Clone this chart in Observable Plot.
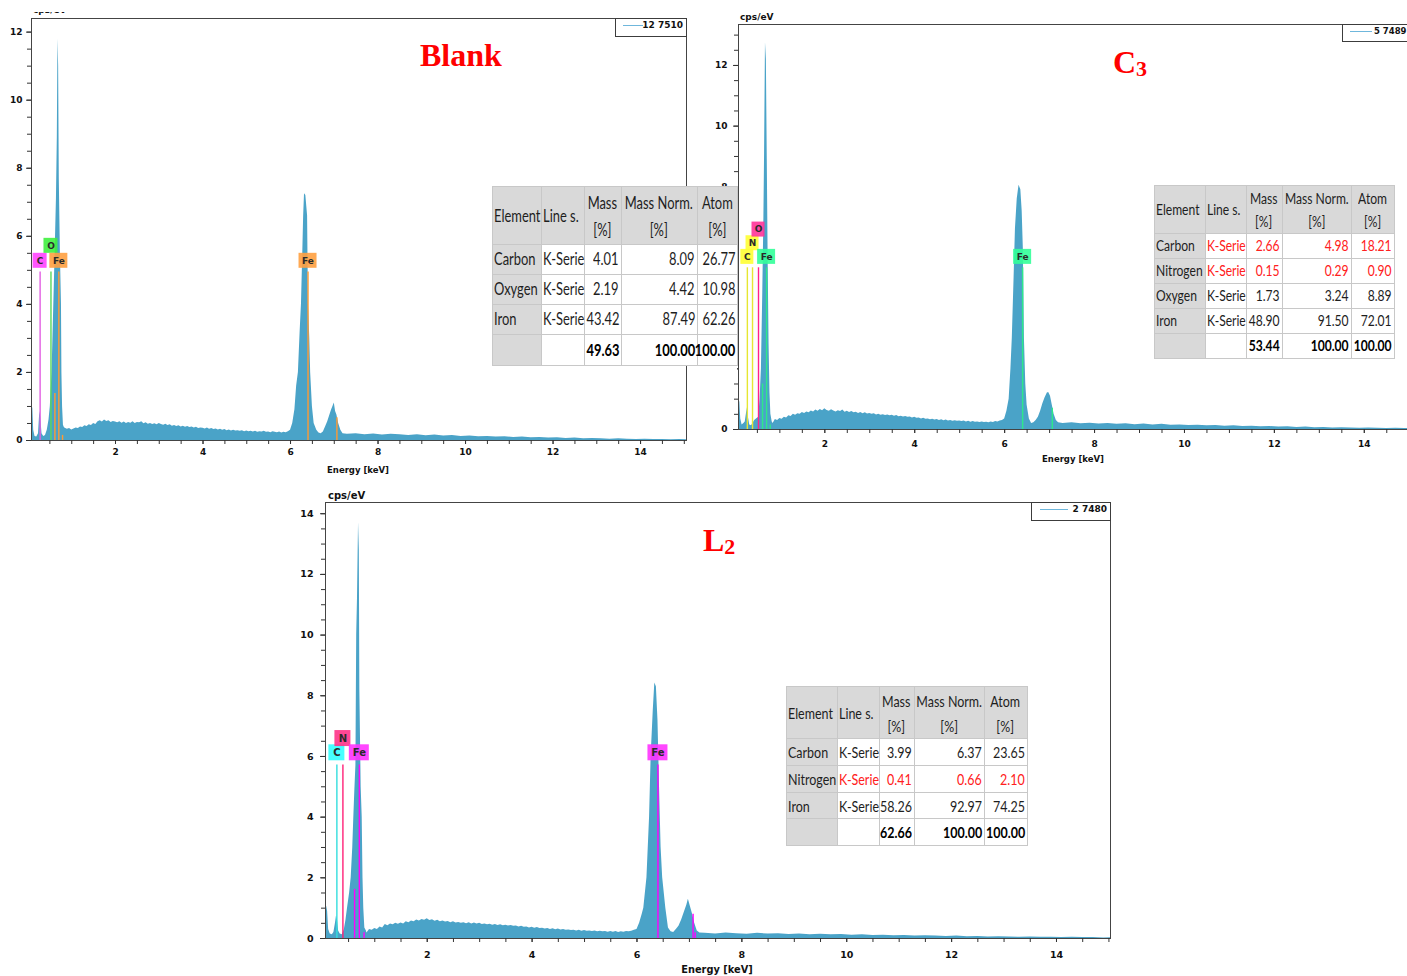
<!DOCTYPE html>
<html><head><meta charset="utf-8">
<script src="https://cdn.jsdelivr.net/npm/d3@7"></script>
<script src="https://cdn.jsdelivr.net/npm/@observablehq/plot@0.6"></script>
<style>
body{margin:0;background:#fff;overflow:hidden;}
#root{position:relative;width:1407px;height:976px;overflow:hidden;background:#fff;}
.pnl{position:absolute;}
.axlab{position:absolute;font-family:"DejaVu Sans",sans-serif;font-weight:bold;color:#111;white-space:nowrap;line-height:1;}
.title{position:absolute;font-family:"Liberation Serif","Times New Roman",serif;font-weight:bold;color:#ff0000;font-size:32px;line-height:32px;white-space:nowrap;}
.title span.s{font-size:22px;position:relative;top:3px;}
.legend{position:absolute;border:1px solid #3c3c3c;background:#fff;box-sizing:border-box;}
.legend .ln{position:absolute;height:0;border-top:1px solid #6fb7dc;}
.legend .tx{position:absolute;font:bold 9px "DejaVu Sans",sans-serif;color:#111;line-height:10px;white-space:nowrap;}
table.eds{position:absolute;border-collapse:collapse;table-layout:fixed;background:#fff;color:#1e1e1e;font-family:Lato,"Open Sans",sans-serif;}
table.eds td{border:1.5px solid #c8c8c8;padding:0 2px 0 1px;white-space:nowrap;overflow:visible;line-height:1.1;}
table.eds td.g{background:#d9d9d9;}
table.eds td.b{font-weight:bold;color:#000;}
.w{display:flex;width:100%;}
.w span{flex:none;white-space:nowrap;display:block;}
.w.l{justify-content:flex-start;} .w.l span{transform-origin:left center;text-align:left;}
.w.r{justify-content:flex-end;} .w.r span{transform-origin:right center;text-align:right;}
.w.c{justify-content:center;} .w.c span{transform-origin:center center;text-align:center;}
</style>
</head><body><div id="root"></div>
<script>
// ---------------- DATA ----------------
const xMajorTicks = [2, 4, 6, 8, 10, 12, 14];
const yMajorBlank = [0, 2, 4, 6, 8, 10, 12];
const yMajorC3 = [0, 2, 4, 6, 8, 10, 12];
const yMajorL2 = [0, 2, 4, 6, 8, 10, 12, 14];

// Blank spectrum (energy keV, cps/eV)
const blankLow = [[0.07,0.3],[0.09,1.0],[0.11,0.95],[0.13,0.3],[0.16,0.12],[0.2,0.1],[0.24,0.2],[0.27,0.85],[0.29,0.7],[0.32,0.2],[0.36,0.12],[0.4,0.15],[0.44,0.3],[0.48,0.6],[0.51,1.0],[0.55,2.0],[0.59,4.0],[0.62,5.5],[0.65,7.1],[0.67,8.9],[0.685,11.8],[0.7,11.0],[0.715,7.7],[0.74,5.5],[0.765,4.0],[0.775,2.0],[0.79,1.0],[0.81,0.45],[0.83,0.38]];
// background 0.85 .. 5.95 keV, every 0.05 keV
const blankBg = [.36,.33,.35,.31,.34,.37,.35,.40,.38,.43,
 .41,.46,.44,.50,.47,.55,.58,.54,.60,.56,
 .58,.53,.56,.54,.52,.55,.51,.54,.50,.53,
 .51,.55,.50,.53,.52,.55,.49,.52,.48,.50,
 .47,.49,.46,.50,.47,.45,.48,.44,.46,.42,
 .44,.41,.43,.40,.42,.39,.41,.38,.40,.37,
 .39,.35,.37,.36,.34,.37,.33,.35,.32,.34,
 .31,.33,.30,.32,.29,.31,.28,.30,.28,.29,
 .27,.29,.26,.28,.26,.27,.25,.27,.24,.26,
 .25,.27,.24,.25,.23,.26,.24,.23,.25,.22,
 .24,.23,.26];
const blankFeK = [[6.0,0.3],[6.05,0.5],[6.1,0.9],[6.14,1.6],[6.18,2.0],[6.22,3.2],[6.25,4.0],[6.28,5.5],[6.3,6.6],[6.32,7.25],[6.35,7.2],[6.37,6.9],[6.39,6.6],[6.41,4.0],[6.44,3.0],[6.46,2.0],[6.5,1.0],[6.54,0.5],[6.6,0.3],[6.65,0.22],[6.7,0.2],[6.75,0.25],[6.8,0.4],[6.85,0.55],[6.9,0.75],[6.94,0.9],[6.97,1.0],[7.0,1.1],[7.03,0.85],[7.06,0.75],[7.1,0.5],[7.15,0.3],[7.2,0.2]];
// tail 7.3 .. 15.1 keV, every 0.2 keV
const blankTail = [.18,.2,.17,.19,.16,.18,.17,.15,.17,.14,.16,.13,.15,.12,.13,.11,.12,.1,.11,.09,.1,.08,.09,.07,.08,.06,.07,.05,.06,.05,.04,.05,.04,.03,.04,.03,.03,.02,.03,.02];

// C3 spectrum
const c3Low = [[0.07,0.3],[0.09,1.0],[0.11,0.9],[0.13,0.35],[0.16,0.15],[0.2,0.2],[0.23,0.25],[0.26,0.55],[0.28,0.72],[0.3,0.4],[0.33,0.15],[0.37,0.12],[0.4,0.2],[0.44,0.3],[0.48,0.35],[0.53,0.4],[0.56,1.0],[0.59,2.0],[0.62,4.5],[0.645,7.0],[0.66,9.1],[0.68,12.75],[0.7,12.2],[0.72,8.9],[0.74,5.5],[0.76,2.8],[0.78,1.2],[0.8,0.5],[0.83,0.25]];
const c3Bg = [.20,.33,.30,.36,.34,.40,.38,.45,.43,.50,
 .47,.52,.50,.56,.53,.58,.55,.61,.58,.64,
 .60,.66,.62,.68,.63,.60,.65,.61,.58,.62,
 .59,.64,.57,.60,.56,.59,.55,.57,.53,.56,
 .52,.55,.51,.53,.50,.52,.48,.50,.47,.49,
 .46,.48,.45,.47,.44,.46,.42,.44,.41,.43,
 .40,.41,.38,.40,.37,.38,.35,.37,.34,.35,
 .32,.34,.31,.33,.30,.32,.29,.31,.28,.30,
 .27,.29,.27,.28,.26,.28,.25,.27,.24,.26,
 .24,.25,.23,.25,.23,.24,.22,.25,.23,.26,
 .25,.28,.30];
const c3FeK = [[6.0,0.35],[6.05,0.6],[6.1,1.0],[6.14,2.0],[6.17,3.0],[6.21,5.0],[6.24,6.6],[6.28,7.6],[6.32,8.05],[6.36,7.9],[6.39,7.2],[6.415,6.0],[6.44,3.0],[6.47,1.5],[6.5,0.8],[6.55,0.35],[6.6,0.2],[6.65,0.22],[6.7,0.3],[6.75,0.4],[6.8,0.6],[6.85,0.85],[6.9,1.05],[6.95,1.2],[6.98,1.22],[7.02,1.1],[7.06,0.8],[7.1,0.5],[7.15,0.3],[7.2,0.22]];
const c3Tail = [.2,.22,.19,.21,.18,.2,.17,.19,.16,.18,.15,.17,.14,.15,.13,.14,.12,.13,.11,.12,.1,.11,.09,.1,.08,.09,.07,.08,.06,.07,.05,.06,.05,.04,.05,.04,.03,.04,.03,.03];

// L2 spectrum
const l2Low = [[0.06,0.2],[0.08,1.07],[0.1,0.9],[0.12,0.3],[0.15,0.15],[0.19,0.12],[0.22,0.2],[0.25,0.5],[0.27,0.75],[0.29,0.6],[0.31,0.25],[0.34,0.15],[0.38,0.12],[0.42,0.3],[0.45,0.6],[0.48,1.0],[0.52,1.5],[0.55,2.0],[0.58,3.0],[0.6,4.0],[0.62,4.9],[0.64,5.7],[0.655,10.0],[0.67,11.2],[0.69,13.7],[0.705,12.8],[0.715,8.2],[0.74,5.0],[0.76,4.0],[0.775,2.0],[0.79,1.0],[0.81,0.35],[0.84,0.25]];
const l2Bg = [.18,.30,.27,.33,.30,.38,.35,.46,.42,.48,
 .45,.50,.47,.51,.48,.55,.52,.58,.55,.61,
 .58,.63,.60,.65,.59,.62,.57,.60,.55,.58,
 .54,.56,.52,.55,.51,.53,.50,.52,.49,.52,
 .48,.51,.48,.50,.46,.48,.45,.47,.44,.46,
 .43,.45,.42,.44,.41,.43,.40,.41,.38,.40,
 .37,.38,.35,.37,.34,.36,.33,.34,.31,.33,
 .30,.32,.29,.31,.28,.30,.27,.28,.26,.27,
 .25,.27,.24,.26,.24,.25,.23,.25,.22,.24,
 .22,.23,.21,.23,.21,.23,.20,.22,.21,.23,
 .22,.24,.27];
const l2FeK = [[6.0,0.3],[6.05,0.5],[6.1,0.8],[6.13,1.0],[6.19,2.0],[6.24,4.0],[6.27,6.0],[6.31,7.5],[6.34,8.42],[6.37,8.3],[6.4,7.2],[6.43,5.0],[6.46,3.0],[6.49,2.0],[6.55,1.0],[6.6,0.35],[6.65,0.22],[6.7,0.2],[6.75,0.3],[6.8,0.4],[6.85,0.6],[6.9,0.85],[6.95,1.1],[6.98,1.29],[7.02,1.05],[7.06,0.8],[7.1,0.5],[7.15,0.25],[7.2,0.18]];
const l2Tail = [.17,.15,.18,.16,.14,.17,.15,.16,.13,.15,.12,.14,.12,.13,.11,.12,.1,.11,.09,.1,.08,.09,.08,.07,.08,.06,.07,.05,.06,.05,.04,.05,.04,.04,.03,.04,.03,.03,.02,.03];

// element markers (energy keV; level = stacking row of the label)
const blankMarkers = [{el:"C",e:0.277,level:0},{el:"O",e:0.525,level:1},{el:"Fe",e:0.705,level:0},{el:"Fe",e:6.40,level:0}];
const blankMinor = [{el:"Fe",e:0.615,h:1.38},{el:"Fe",e:0.79,h:0.15},{el:"Fe",e:7.06,h:0.67}];
const c3Markers = [{el:"C",e:0.277,level:0},{el:"N",e:0.392,level:1},{el:"O",e:0.525,level:2},{el:"Fe",e:0.705,level:0},{el:"Fe",e:6.40,level:0}];
const c3Minor = [{el:"Fe",e:0.615,h:1.5},{el:"Fe",e:0.785,h:0.15},{el:"Fe",e:7.06,h:0.7}];
const l2Markers = [{el:"C",e:0.277,level:0},{el:"N",e:0.392,level:1},{el:"Fe",e:0.705,level:0},{el:"Fe",e:6.40,level:0}];
const l2Minor = [{el:"Fe",e:0.615,h:1.62},{el:"Fe",e:0.795,h:0.19},{el:"Fe",e:7.07,h:0.8},{el:"Fe",e:7.11,h:0.19}];

const legendValues = ["12 7510", "5 7489", "2 7480"];
const panelTitles = [["Blank",""], ["C","3"], ["L","2"]];

// quantification tables
const tableHeader = ["Element", "Line s.", "Mass", "Mass Norm.", "Atom"];
const tableUnits = ["", "", "[%]", "[%]", "[%]"];
const blankRows = [
  {el:"Carbon", line:"K-Serie", mass:4.01, norm:8.09, atom:26.77, flag:false},
  {el:"Oxygen", line:"K-Serie", mass:2.19, norm:4.42, atom:10.98, flag:false},
  {el:"Iron", line:"K-Serie", mass:43.42, norm:87.49, atom:62.26, flag:false}];
const blankTotal = {mass:49.63, norm:100.00, atom:100.00};
const c3Rows = [
  {el:"Carbon", line:"K-Serie", mass:2.66, norm:4.98, atom:18.21, flag:true},
  {el:"Nitrogen", line:"K-Serie", mass:0.15, norm:0.29, atom:0.90, flag:true},
  {el:"Oxygen", line:"K-Serie", mass:1.73, norm:3.24, atom:8.89, flag:false},
  {el:"Iron", line:"K-Serie", mass:48.90, norm:91.50, atom:72.01, flag:false}];
const c3Total = {mass:53.44, norm:100.00, atom:100.00};
const l2Rows = [
  {el:"Carbon", line:"K-Serie", mass:3.99, norm:6.37, atom:23.65, flag:false},
  {el:"Nitrogen", line:"K-Serie", mass:0.41, norm:0.66, atom:2.10, flag:true},
  {el:"Iron", line:"K-Serie", mass:58.26, norm:92.97, atom:74.25, flag:false}];
const l2Total = {mass:62.66, norm:100.00, atom:100.00};

// ---------------- BUILD ----------------
const root = document.getElementById("root");
function spectrum(low, bg, feK, tail) {
  return [...low, ...bg.map((c, i) => [0.85 + 0.05 * i, c]), ...feK, ...tail.map((c, i) => [7.3 + 0.2 * i, c])];
}
const SPEC_FILL = "#4aa3c8";

function panel(cfg) {
  const labY = d => cfg.labelY0 + d.level * cfg.levelStep;
  const one = cfg.markers.filter(d => d.el.length === 1);
  const two = cfg.markers.filter(d => d.el.length === 2);
  const col = d => cfg.colors[d.el];
  const svg = Plot.plot({
    width: cfg.w, height: cfg.h,
    marginLeft: cfg.ml, marginTop: cfg.mt, marginRight: cfg.mr, marginBottom: cfg.mb,
    x: {domain: cfg.xDomain},
    y: {domain: cfg.yDomain},
    color: {type: "identity"},
    style: {fontFamily: "'DejaVu Sans', sans-serif", fontSize: cfg.fs + "px", fontWeight: "bold", color: "#111", background: "transparent", overflow: "visible"},
    marks: [
      Plot.areaY(cfg.spec, {x: d => d[0], y: d => d[1], fill: SPEC_FILL, curve: "linear", clip: true}),
      Plot.ruleX(cfg.markers, {x: "e", y1: () => 0, y2: () => cfg.lineTop, stroke: d => cfg.lineColors[d.el], strokeWidth: 1.4}),
      Plot.ruleX(cfg.minor, {x: "e", y1: () => 0, y2: "h", stroke: d => cfg.lineColors[d.el], strokeWidth: 1.4}),
      Plot.rect(one, {x1: "e", x2: "e", y1: labY, y2: labY, fill: col, fillOpacity: 0.9,
        insetLeft: -cfg.bw1 / 2, insetRight: -cfg.bw1 / 2, insetTop: -cfg.bh / 2, insetBottom: -cfg.bh / 2}),
      Plot.rect(two, {x1: "e", x2: "e", y1: labY, y2: labY, fill: col, fillOpacity: 0.9,
        insetLeft: -cfg.bw2 / 2, insetRight: -cfg.bw2 / 2, insetTop: -cfg.bh / 2, insetBottom: -cfg.bh / 2}),
      Plot.text(cfg.markers, {x: "e", y: labY, text: "el", fill: "#2a2a2a", fontSize: cfg.lfs, fontWeight: "bold"}),
      Plot.frame({stroke: "#444", strokeWidth: 1}),
      Plot.axisY({ticks: d3.range(0, cfg.yDomain[1], 0.5), tickSize: 4, tickFormat: () => "", label: null, stroke: "#333"}),
      Plot.axisY({ticks: cfg.yMajor, tickSize: 5, tickPadding: cfg.typ, tickFormat: d => d, label: null, stroke: "#333", fill: "#111"}),
      Plot.axisX({ticks: d3.range(0.5, 15.01, 0.5), tickSize: 4, tickFormat: () => "", label: null, stroke: "#333"}),
      Plot.axisX({ticks: xMajorTicks, tickSize: 4, tickPadding: cfg.txp, tickFormat: d => d, label: null, stroke: "#333", fill: "#111"})
    ]
  });
  svg.classList.add("pnl");
  svg.style.left = cfg.left + "px";
  svg.style.top = cfg.top + "px";
  root.appendChild(svg);
}

panel({spec: spectrum(blankLow, blankBg, blankFeK, blankTail), markers: blankMarkers, minor: blankMinor,
  colors: {C: "#ff44ff", O: "#3ff03f", Fe: "#ffa040"}, lineColors: {C: "#e25ee2", O: "#5ad85a", Fe: "#ff9a33"},
  left: 0, top: 0, w: 700, h: 480, ml: 31, mt: 18, mr: 14, mb: 40,
  xDomain: [0.08, 15.05], yDomain: [0, 12.4], yMajor: yMajorBlank, fs: 9, typ: 4, txp: 4,
  labelY0: 5.28, levelStep: 0.44, lineTop: 4.95, bw1: 14, bw2: 18, bh: 15, lfs: 9});
panel({spec: spectrum(c3Low, c3Bg, c3FeK, c3Tail), markers: c3Markers, minor: c3Minor,
  colors: {C: "#ffff33", N: "#ffff33", O: "#ff3399", Fe: "#33ff99"}, lineColors: {C: "#e6e632", N: "#e6e632", O: "#ff2288", Fe: "#2ee88a"},
  left: 700, top: 0, w: 720, h: 470, ml: 38, mt: 24, mr: 9, mb: 41,
  xDomain: [0.08, 15.05], yDomain: [0, 13.35], yMajor: yMajorC3, fs: 9, typ: 6, txp: 7,
  labelY0: 5.69, levelStep: 0.45, lineTop: 5.33, bw1: 13, bw2: 18, bh: 15, lfs: 9});
panel({spec: spectrum(l2Low, l2Bg, l2FeK, l2Tail), markers: l2Markers, minor: l2Minor,
  colors: {C: "#33ffff", N: "#ff3388", Fe: "#ff33ff"}, lineColors: {C: "#33dede", N: "#ff2277", Fe: "#ff00ff"},
  left: 280, top: 480, w: 850, h: 496, ml: 45, mt: 22, mr: 20, mb: 38,
  xDomain: [0.06, 15.03], yDomain: [0, 14.37], yMajor: yMajorL2, fs: 9.5, typ: 7, txp: 9,
  labelY0: 6.12, levelStep: 0.47, lineTop: 5.72, bw1: 16, bw2: 20, bh: 16, lfs: 10});

// white strip of the first image that hides the C3 y axis just below its table
{
  const m = document.createElement("div");
  Object.assign(m.style, {position: "absolute", left: "700px", top: "360px", width: "37px", height: "15px", background: "#fff"});
  root.appendChild(m);
}

// axis titles
function lab(text, x, y, fs, center) {
  const d = document.createElement("div");
  d.className = "axlab"; d.textContent = text;
  d.style.left = x + "px"; d.style.top = (y - fs / 2) + "px"; d.style.fontSize = fs + "px";
  if (center) d.style.transform = "translateX(-50%)";
  root.appendChild(d); return d;
}
// clipped y title of the first panel
{
  const clip = document.createElement("div");
  Object.assign(clip.style, {position: "absolute", left: "33px", top: "12px", height: "4px", width: "40px", overflow: "hidden"});
  const s = document.createElement("div");
  s.className = "axlab"; s.textContent = "cps/eV";
  Object.assign(s.style, {left: "0px", top: "-6px", fontSize: "9px"});
  clip.appendChild(s); root.appendChild(clip);
}
lab("cps/eV", 740, 17, 9, false);
lab("cps/eV", 328, 495.5, 10, false);
lab("Energy [keV]", 358, 470, 8.5, true);
lab("Energy [keV]", 1073, 459, 8.5, true);
lab("Energy [keV]", 717, 970, 9.8, true);

// panel titles
[[420, 39], [1113, 46], [703, 524]].forEach(([x, y], i) => {
  const d = document.createElement("div");
  d.className = "title";
  d.style.left = x + "px"; d.style.top = y + "px";
  d.textContent = panelTitles[i][0];
  if (panelTitles[i][1]) { const s = document.createElement("span"); s.className = "s"; s.textContent = panelTitles[i][1]; d.appendChild(s); }
  root.appendChild(d);
});

// legend boxes
[{l: 615, t: 18, w: 72, h: 19, l1: 7, l2: 27, right: 3, fs: 9},
 {l: 1342, t: 24, w: 90, h: 18, l1: 7, l2: 29, left: 31, fs: 8.5},
 {l: 1031, t: 502, w: 80, h: 19, l1: 8, l2: 36, right: 3, fs: 9}].forEach((g, i) => {
  const b = document.createElement("div");
  b.className = "legend";
  Object.assign(b.style, {left: g.l + "px", top: g.t + "px", width: g.w + "px", height: g.h + "px"});
  const ln = document.createElement("div"); ln.className = "ln";
  Object.assign(ln.style, {left: g.l1 + "px", width: (g.l2 - g.l1) + "px", top: "6px"});
  const tx = document.createElement("div"); tx.className = "tx"; tx.textContent = legendValues[i];
  tx.style.top = "1px"; tx.style.fontSize = g.fs + "px";
  if (g.right !== undefined) tx.style.right = g.right + "px"; else tx.style.left = g.left + "px";
  b.appendChild(ln); b.appendChild(tx); root.appendChild(b);
});

// tables (condensed look via horizontal scaling of each cell's text)
function cell(tr, html, cls, align, t) {
  const td = tr.insertCell();
  td.className = cls;
  const w = td.appendChild(document.createElement("div"));
  w.className = "w " + align;
  const sp = w.appendChild(document.createElement("span"));
  sp.innerHTML = html;
  sp.style.transform = `scaleX(${t.sx})`;
  return td;
}
function buildTable(rows, total, t) {
  const tbl = document.createElement("table");
  tbl.className = "eds";
  Object.assign(tbl.style, {left: t.left + "px", top: t.top + "px", width: d3.sum(t.cols) + "px", fontSize: t.fs + "px"});
  const cg = tbl.appendChild(document.createElement("colgroup"));
  t.cols.forEach(w => { const c = cg.appendChild(document.createElement("col")); c.style.width = w + "px"; });
  const tb = tbl.appendChild(document.createElement("tbody"));
  let tr = tb.insertRow(); tr.style.height = t.hh + "px";
  tableHeader.forEach((h, i) => {
    const td = cell(tr, tableUnits[i] ? h + "<br>" + tableUnits[i] : h, "g", i < 2 ? "l" : "c", t);
    td.style.lineHeight = t.hl + "px";
  });
  rows.forEach((r, k) => {
    tr = tb.insertRow(); tr.style.height = t.rh[k] + "px";
    [r.el, r.line, r.mass.toFixed(2), r.norm.toFixed(2), r.atom.toFixed(2)].forEach((v, i) => {
      const td = cell(tr, v, i === 0 ? "g" : "", i < 2 ? "l" : "r", t);
      if (r.flag && i > 0) td.style.color = "#ff2020";
    });
  });
  tr = tb.insertRow(); tr.style.height = t.rh[rows.length] + "px";
  ["", "", total.mass.toFixed(2), total.norm.toFixed(2), total.atom.toFixed(2)].forEach((v, i) => {
    cell(tr, v, (i === 0 ? "g " : "") + "b", i < 2 ? "l" : "r", t);
  });
  root.appendChild(tbl);
}
buildTable(blankRows, blankTotal, {left: 492, top: 186, cols: [49, 43, 37, 76, 40], fs: 17, sx: 0.76, hh: 58, hl: 27, rh: [30, 30, 30, 31]});
buildTable(c3Rows, c3Total, {left: 1154, top: 185, cols: [51, 41, 36, 69, 43], fs: 15.5, sx: 0.78, hh: 48, hl: 23, rh: [25, 25, 25, 25, 25]});
buildTable(l2Rows, l2Total, {left: 786, top: 686, cols: [51, 42, 35, 70, 43], fs: 16, sx: 0.78, hh: 52, hl: 25, rh: [27, 27, 26, 27]});
</script>
</body></html>
